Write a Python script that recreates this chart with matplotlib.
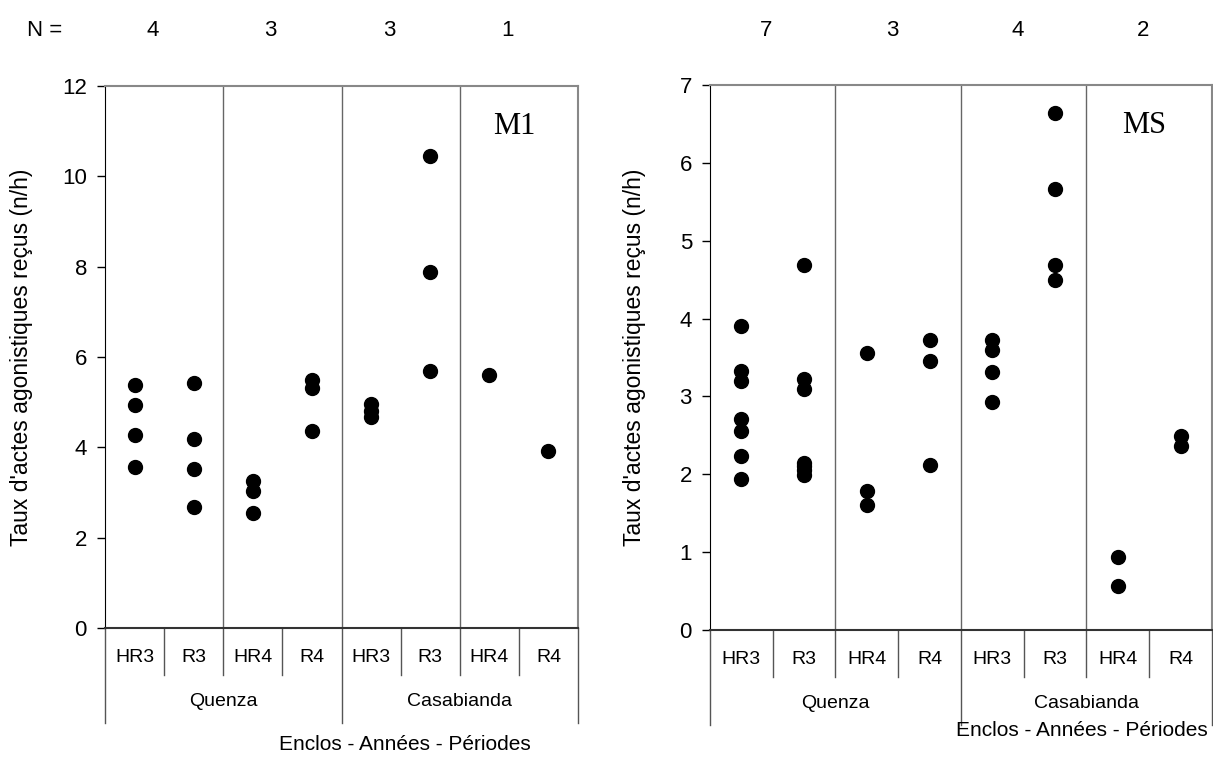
import numpy as np
import matplotlib
matplotlib.use('Agg')
import matplotlib.pyplot as plt
import matplotlib.transforms as mtransforms

plt.rcParams['font.family'] = ['Liberation Sans', 'DejaVu Sans']

# --- data ---
periods = ['HR3', 'R3', 'HR4', 'R4', 'HR3', 'R3', 'HR4', 'R4']
enclos = ['Quenza', 'Casabianda']
n_m1 = [4, 3, 3, 1]
n_ms = [7, 3, 4, 2]

# M1 panel, one list per category (same order as periods)
m1_values = [
    [5.38, 4.93, 4.27, 3.56],
    [5.42, 4.18, 3.52, 2.69],
    [3.26, 3.03, 2.55],
    [5.48, 5.32, 4.36],
    [4.95, 4.81, 4.67],
    [10.46, 7.89, 5.70],
    [5.60],
    [3.92],
]
# MS panel
ms_values = [
    [3.91, 3.33, 3.20, 2.71, 2.56, 2.24, 1.94],
    [4.69, 3.23, 3.10, 2.15, 2.11, 2.06, 1.99],
    [3.56, 1.78, 1.61],
    [3.72, 3.46, 2.12],
    [3.72, 3.59, 3.32, 2.93],
    [6.64, 5.66, 4.69, 4.50],
    [0.94, 0.57],
    [2.49, 2.36],
]

W, H = 1213, 774
fig = plt.figure(figsize=(W / 100, H / 100), dpi=100)


def draw_panel(ax, values, ymax, ystep, tag, ax_h_px):
    for i, vals in enumerate(values):
        ax.plot([i + 0.5] * len(vals), vals, 'o', color='black', ms=10, zorder=3)

    ax.set_xlim(0, 8)
    ax.set_ylim(0, ymax)
    ax.set_yticks(np.arange(0, ymax + 0.01, ystep))
    ax.set_xticks([])
    ax.tick_params(axis='y', direction='out', length=6, width=1, labelsize=16, pad=7)

    # frame: black left/bottom, grey top/right
    ax.spines['left'].set_color('black')
    ax.spines['bottom'].set_color('#333333')
    ax.spines['bottom'].set_linewidth(1.5)
    for s in ['top', 'right']:
        ax.spines[s].set_color('#888888')
        ax.spines[s].set_linewidth(1.5)

    # separators between year pairs
    for xs in [2, 4, 6]:
        ax.axvline(xs, color='#666666', lw=1, zorder=1)

    # hierarchical category axis below
    tr = ax.get_xaxis_transform()
    short = 47 / ax_h_px
    long_ = 95 / ax_h_px
    for xs in range(9):
        y_end = -long_ if xs in (0, 4, 8) else -short
        ax.plot([xs, xs], [0, y_end], color='#555555', lw=1, transform=tr, clip_on=False)
    for i, p in enumerate(periods):
        ax.text(i + 0.5, -30 / ax_h_px, p, transform=tr, ha='center', va='center',
                fontsize=14)
    for g, name in enumerate(enclos):
        ax.text(4 * g + 2, -74 / ax_h_px, name, transform=tr, ha='center', va='center',
                fontsize=14)

    ax.text(0.865, 0.925, tag, transform=ax.transAxes, ha='center', va='center',
            fontsize=22, family=['Liberation Serif', 'DejaVu Serif'])


ax1 = fig.add_axes([105 / W, 1 - 628 / H, 473 / W, 542 / H])
ax2 = fig.add_axes([710 / W, 1 - 630 / H, 502 / W, 545 / H])

draw_panel(ax1, m1_values, 12, 2, 'M1', 542)
draw_panel(ax2, ms_values, 7, 1, 'MS', 545)

# N row above each pair of periods
for ax, nv, off in [(ax1, n_m1, 0.8), (ax2, n_ms, 0.9)]:
    tr = mtransforms.blended_transform_factory(ax.transData, fig.transFigure)
    for k, n in enumerate(nv):
        ax.text(2 * k + off, 1 - 30 / H, str(n), transform=tr, ha='center', va='center',
                fontsize=16)
fig.text(45 / W, 1 - 30 / H, 'N =', ha='center', va='center', fontsize=16)

ylab = "Taux d'actes agonistiques reçus (n/h)"
fig.text(22 / W, 1 - 357 / H, ylab, rotation=90, ha='center', va='center', fontsize=16.5)
fig.text(635 / W, 1 - 357 / H, ylab, rotation=90, ha='center', va='center', fontsize=16.5)

fig.text(405 / W, 1 - 745 / H, 'Enclos - Années - Périodes', ha='center', va='center', fontsize=15)
fig.text(1082 / W, 1 - 731 / H, 'Enclos - Années - Périodes', ha='center', va='center', fontsize=15)

fig.savefig('out.png', dpi=100)
